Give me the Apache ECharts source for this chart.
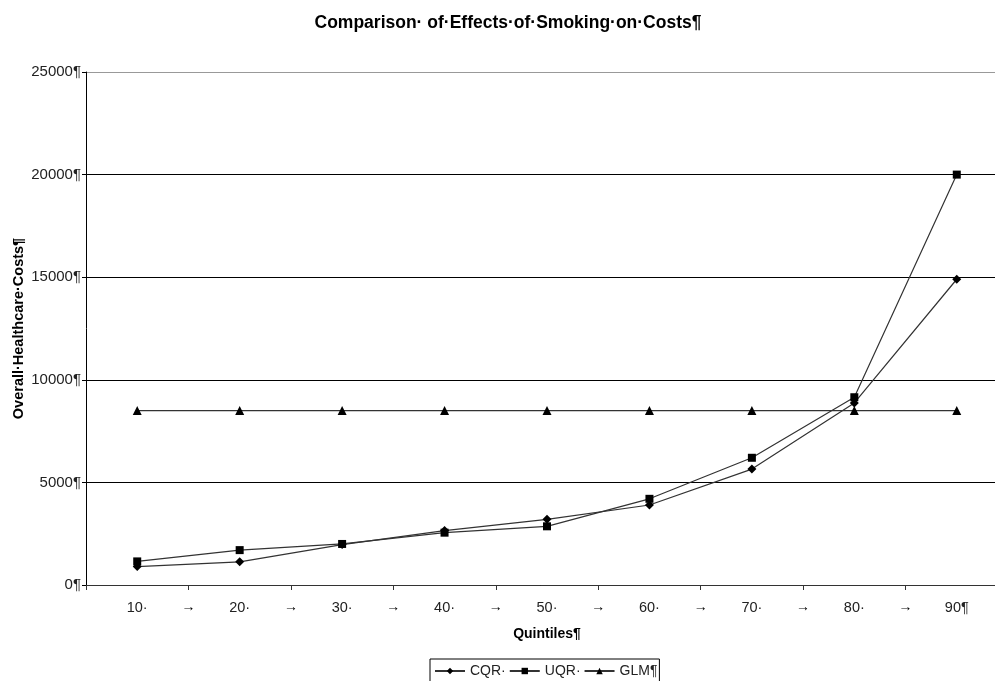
<!DOCTYPE html>
<html>
<head>
<meta charset="utf-8">
<script src="https://cdn.jsdelivr.net/npm/echarts@6/dist/echarts.min.js"></script>
<style>
  html, body { margin: 0; padding: 0; background: #fff; overflow: hidden; }
  #chart { width: 995px; height: 681px; }
</style>
</head>
<body>
<div id="chart"></div>
<script>
// Quintile categories and tick labels
const quintiles = ['10·', '20·', '30·', '40·', '50·', '60·', '70·', '80·', '90¶'];
const separatorLabel = '→';
const yTickLabels = ['0¶', '5000¶', '10000¶', '15000¶', '20000¶', '25000¶'];

// Overall healthcare costs by quintile
const cqr = [900, 1130, 1970, 2650, 3200, 3900, 5650, 8870, 14900];
const uqr = [1150, 1700, 2000, 2550, 2860, 4200, 6200, 9150, 20000];
const glm = [8500, 8500, 8500, 8500, 8500, 8500, 8500, 8500, 8500];

const seriesNames = ['CQR·', 'UQR·', 'GLM¶'];

const font = 'Liberation Sans, Arial, sans-serif';
const chart = echarts.init(document.getElementById('chart'));

function lineSeries(name, data, symbol, size) {
  return {
    name: name,
    type: 'line',
    data: data,
    symbol: symbol,
    symbolSize: size,
    showAllSymbol: true,
    lineStyle: { color: '#333', width: 1.2 },
    itemStyle: { color: '#000' },
    emphasis: { disabled: true },
    animation: false
  };
}

chart.setOption({
  backgroundColor: '#fff',
  animation: false,
  title: {
    text: 'Comparison· of·Effects·of·Smoking·on·Costs¶',
    left: 503,
    textAlign: 'center',
    top: 9,
    textStyle: { fontFamily: font, fontSize: 17.5, fontWeight: 'bold', color: '#000' }
  },
  // the plot area runs a little past the right edge of the canvas
  grid: { left: 86, right: -13, top: 72, bottom: 96, outerBoundsMode: 'none', containLabel: false },
  legend: {
    data: seriesNames,
    left: 430,
    top: 659,
    orient: 'horizontal',
    itemGap: 3,
    itemWidth: 30,
    itemHeight: 8,
    padding: [5, 2, 8, 4],
    borderColor: '#000',
    borderWidth: 1,
    textStyle: { fontFamily: font, fontSize: 14, color: '#222', padding: [0, 0, 0, 0] }
  },
  xAxis: [
    {
      type: 'category',
      data: quintiles,
      boundaryGap: true,
      name: 'Quintiles¶',
      nameLocation: 'middle',
      nameGap: 42,
      nameMoveOverlap: false,
      nameTextStyle: { fontFamily: font, fontSize: 14, fontWeight: 'bold', color: '#000' },
      axisLine: { lineStyle: { color: '#333', width: 1 } },
      axisTick: { show: true, length: 5, inside: false, lineStyle: { color: '#333' } },
      axisLabel: { fontFamily: font, fontSize: 14.5, color: '#222', margin: 15 },
      splitLine: { show: false }
    },
    {
      type: 'value',
      position: 'bottom',
      min: 0,
      max: quintiles.length,
      interval: 1,
      axisLine: { show: false },
      axisTick: { show: false },
      splitLine: { show: false },
      axisLabel: {
        fontFamily: font, fontSize: 14, fontWeight: 'bold', color: '#000', margin: 15,
        formatter: v => (v > 0 && v < quintiles.length) ? separatorLabel : ''
      }
    }
  ],
  yAxis: {
    type: 'value',
    min: 0,
    max: 25000,
    interval: 5000,
    name: 'Overall·Healthcare·Costs¶',
    nameLocation: 'middle',
    nameGap: 60,
    nameMoveOverlap: false,
    nameTextStyle: { fontFamily: font, fontSize: 14.5, fontWeight: 'bold', color: '#000' },
    axisLine: { show: true, lineStyle: { color: '#000', width: 1 } },
    axisTick: { show: true, length: 4, lineStyle: { color: '#000' } },
    axisLabel: {
      fontFamily: font, fontSize: 15, color: '#222', margin: 5,
      formatter: v => yTickLabels[Math.round(v / 5000)]
    },
    splitLine: { show: true, lineStyle: { color: ['#000', '#000', '#000', '#000', '#000', '#999'], width: 1 } }
  },
  series: [
    lineSeries(seriesNames[0], cqr, 'diamond', 9),
    lineSeries(seriesNames[1], uqr, 'rect', 8),
    lineSeries(seriesNames[2], glm, 'triangle', 9)
  ]
});
</script>
</body>
</html>
